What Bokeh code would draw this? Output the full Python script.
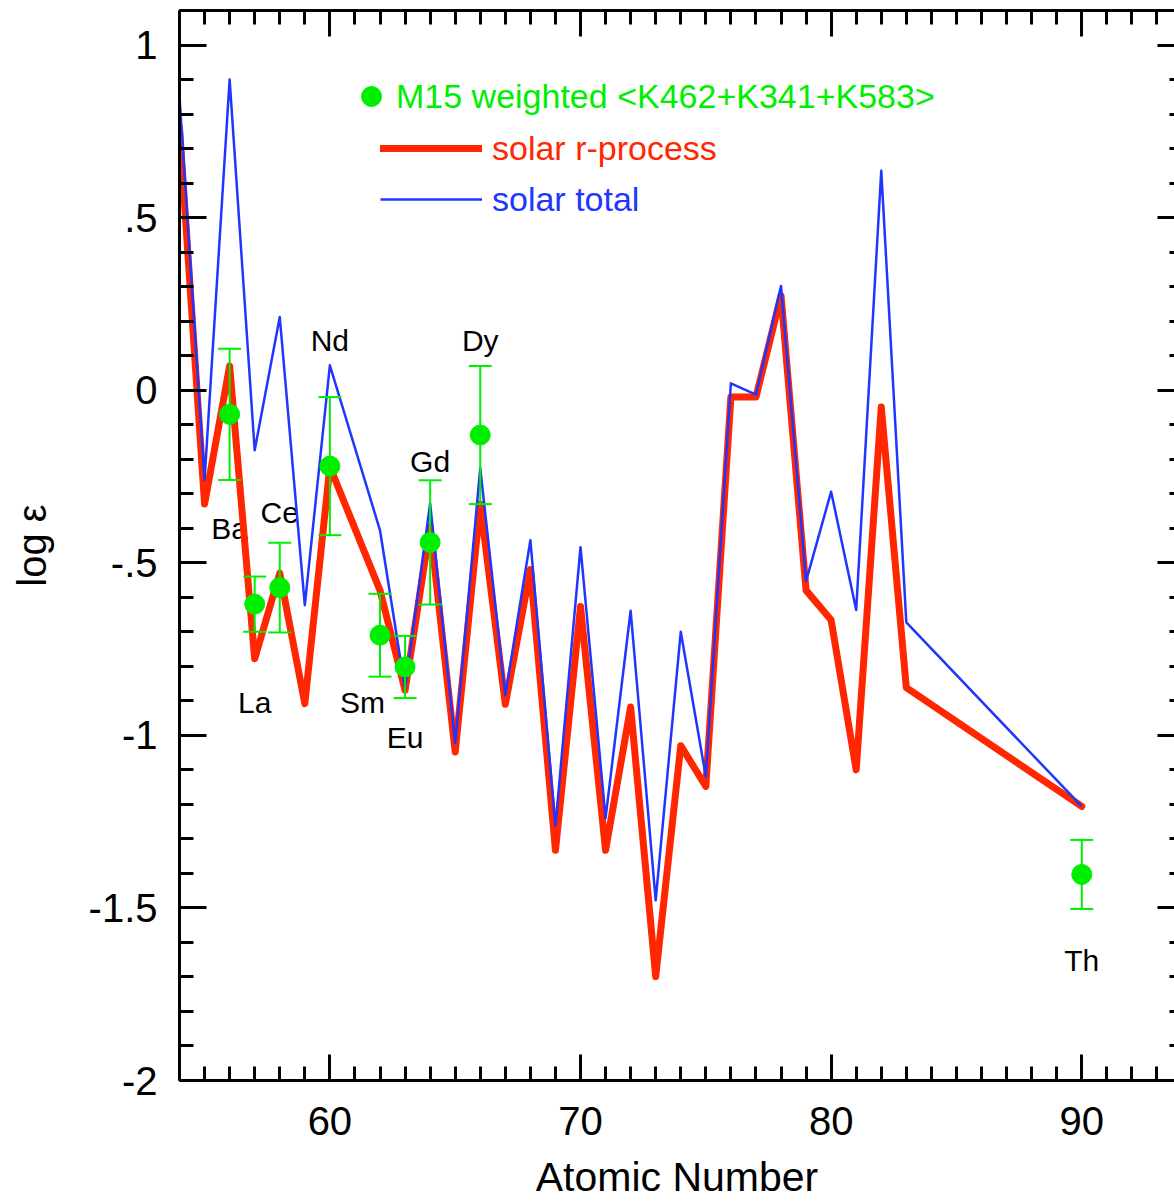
from bokeh.plotting import figure
from bokeh.models import (Range1d, LinearAxis, SingleIntervalTicker, CustomJSTickFormatter,
                          ColumnDataSource, Whisker, TeeHead, Legend, LegendItem)
from bokeh.core.properties import value
from bokeh.embed import file_html
from bokeh.resources import INLINE

FONT = "Liberation Sans"
RED = "#ff2600"
BLUE = "#2036ff"
GREEN = "#00ee00"

# ---- solar abundance curves (atomic number, log eps) ----
solar_z = [54, 55, 56, 57, 58, 59, 60, 62, 63, 64, 65, 66, 67, 68, 69, 70, 71, 72,
           73, 74, 75, 76, 77, 78, 79, 80, 81, 82, 83, 90]
solar_total = [0.85, -0.26, 0.90, -0.174, 0.212, -0.623, 0.072, -0.406, -0.865, -0.328,
               -1.023, -0.226, -0.884, -0.435, -1.262, -0.455, -1.24, -0.639, -1.478, -0.70,
               -1.12, 0.020, -0.013, 0.302, -0.553, -0.294, -0.637, 0.636, -0.673, -1.206]
solar_r = [0.76, -0.33, 0.07, -0.778, -0.53, -0.908, -0.222, -0.58, -0.87, -0.396,
           -1.048, -0.33, -0.91, -0.52, -1.333, -0.627, -1.333, -0.918, -1.699, -1.03,
           -1.148, -0.02, -0.02, 0.274, -0.58, -0.666, -1.10, -0.049, -0.862, -1.206]

# ---- M15 weighted abundances ----
m15_z = [56, 57, 58, 60, 62, 63, 64, 66, 90]
m15_val = [-0.07, -0.62, -0.572, -0.22, -0.71, -0.802, -0.441, -0.13, -1.403]
m15_err = [0.19, 0.08, 0.13, 0.20, 0.12, 0.09, 0.18, 0.20, 0.10]

# ---- element labels ----
label_text = ["Ba", "La", "Ce", "Nd", "Sm", "Eu", "Gd", "Dy", "Th"]
label_z = [56, 57, 58, 60, 61.3, 63, 64, 66, 90]
label_y = [-0.40, -0.904, -0.354, 0.145, -0.904, -1.006, -0.206, 0.145, -1.652]

# ---- axis ticks ----
x_major_step = 10
y_major_step = 0.5

p = figure(width=1174, height=1202, output_backend="svg", toolbar_location=None,
           x_range=Range1d(54, 93.7), y_range=Range1d(-2, 1.1),
           x_axis_type=None, y_axis_type=None,
           min_border_left=179, min_border_top=10, min_border_right=0, min_border_bottom=0)
p.outline_line_color = None
p.background_fill_color = "white"
p.border_fill_color = "white"


def style_axis(ax, major_in=26, minor_in=14):
    ax.axis_line_width = 3
    ax.axis_line_color = "black"
    ax.major_tick_line_width = 3
    ax.minor_tick_line_width = 3
    ax.major_tick_out = 0
    ax.minor_tick_out = 0
    ax.major_tick_in = major_in
    ax.minor_tick_in = minor_in
    ax.major_label_text_font = FONT
    ax.major_label_text_color = "black"
    ax.axis_label_text_font = FONT
    ax.axis_label_text_font_style = "normal"
    ax.axis_label_text_color = "black"


def blank_labels(ax):
    ax.formatter = CustomJSTickFormatter(code="return '';")
    ax.major_label_text_font_size = "1px"
    ax.major_label_standoff = 0
    ax.axis_label = None


yfmt = CustomJSTickFormatter(code="""
let s = (Math.round(tick*10)/10).toString();
return s.replace(/^(-?)0\\./, '$1.');
""")

xb = LinearAxis(ticker=SingleIntervalTicker(interval=x_major_step, num_minor_ticks=10))
style_axis(xb)
xb.major_label_text_font_size = "40px"
xb.major_label_standoff = 26
xb.axis_label = "Atomic Number"
xb.axis_label_text_font_size = "41px"
xb.axis_label_standoff = 16
p.add_layout(xb, "below")

xt = LinearAxis(ticker=SingleIntervalTicker(interval=x_major_step, num_minor_ticks=10))
style_axis(xt)
blank_labels(xt)
p.add_layout(xt, "above")

yl = LinearAxis(ticker=SingleIntervalTicker(interval=y_major_step, num_minor_ticks=5),
                formatter=yfmt)
style_axis(yl, 27, 14)
yl.major_label_text_font_size = "40px"
yl.major_label_standoff = 22
yl.axis_label = "log ε"
yl.axis_label_text_font_size = "40px"
yl.axis_label_standoff = 32
p.add_layout(yl, "left")

yr = LinearAxis(ticker=SingleIntervalTicker(interval=y_major_step, num_minor_ticks=5))
style_axis(yr, 17, 5)
yr.axis_line_alpha = 0
blank_labels(yr)
p.add_layout(yr, "right")

# element labels (under the curves)
lab_src = ColumnDataSource(dict(x=label_z, y=label_y, t=label_text))
p.text("x", "y", text="t", source=lab_src, text_align="center", text_baseline="middle",
       text_font=value(FONT), text_font_size="30px", text_color="black")

sol = ColumnDataSource(dict(z=solar_z, total=solar_total, r=solar_r))
r_red = p.line("z", "r", source=sol, line_color=RED, line_width=7,
               line_join="round", line_cap="round")
r_blue = p.line("z", "total", source=sol, line_color=BLUE, line_width=2.5,
                line_join="round")

m15 = ColumnDataSource(dict(z=m15_z, v=m15_val,
                            lo=[v - e for v, e in zip(m15_val, m15_err)],
                            hi=[v + e for v, e in zip(m15_val, m15_err)]))
r_dots = p.scatter("z", "v", source=m15, size=20, fill_color=GREEN, line_color=GREEN)
wh = Whisker(source=m15, base="z", upper="hi", lower="lo", dimension="height",
             line_color=GREEN, line_width=2, level="annotation",
             upper_head=TeeHead(size=23, line_color=GREEN, line_width=2),
             lower_head=TeeHead(size=23, line_color=GREEN, line_width=2))
p.add_layout(wh)


def make_legend(label, rend, color, loc, gw, gh, standoff):
    lg = Legend(items=[LegendItem(label=label, renderers=[rend])], location=loc,
                glyph_width=gw, glyph_height=gh, label_height=gh, label_standoff=standoff,
                padding=0, margin=0, spacing=0, border_line_alpha=0,
                background_fill_alpha=0, label_text_font=FONT,
                label_text_font_size="34px", label_text_color=color)
    p.add_layout(lg)


make_legend("M15 weighted <K462+K341+K583>", r_dots, GREEN, (167, 959), 50, 50, 0)
make_legend("solar r-process", r_red, RED, (201, 910), 102, 44, 10)
make_legend("solar total", r_blue, BLUE, (201, 859), 102, 44, 10)

open("out.html", "w").write(file_html(p, INLINE))
